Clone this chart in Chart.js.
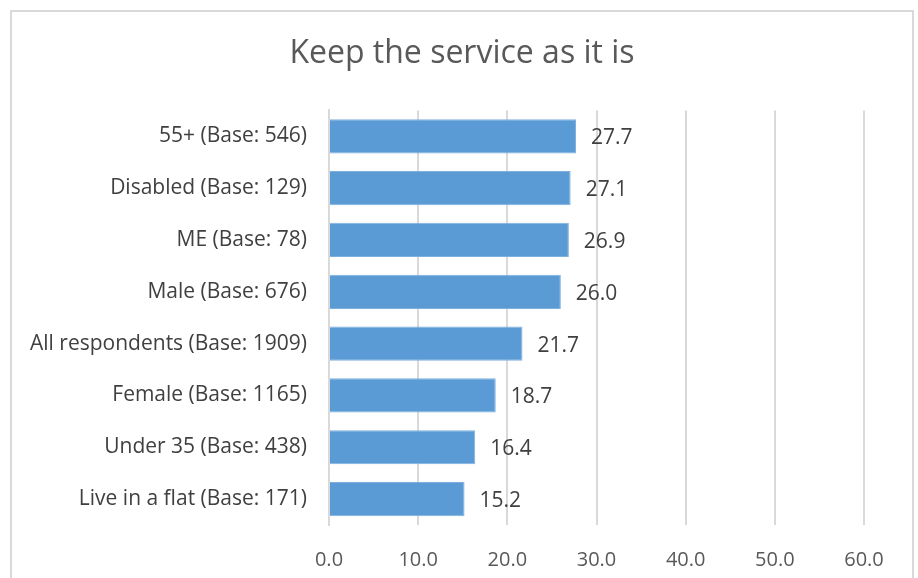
<!DOCTYPE html>
<html>
<head>
<meta charset="utf-8">
<script src="https://cdn.jsdelivr.net/npm/chart.js@4"></script>
<style>
  html, body { margin: 0; padding: 0; background: #fff; }
  #wrap { position: relative; width: 918px; height: 578px; overflow: hidden; }
  #frame { position: absolute; left: 10px; top: 10px; width: 904px; height: 600px; border: 2px solid #d9d9d9; box-sizing: border-box; }
  canvas { position: absolute; left: 0; top: 0; }
</style>
</head>
<body>
<div id="wrap">
  <div id="frame"></div>
  <canvas id="myChart" width="918" height="578"></canvas>
</div>
<script>
const groups = ['55+ (Base: 546)', 'Disabled (Base: 129)', 'ME (Base: 78)', 'Male (Base: 676)', 'All respondents (Base: 1909)', 'Female (Base: 1165)', 'Under 35 (Base: 438)', 'Live in a flat (Base: 171)'];
const keepService = [27.7, 27.1, 26.9, 26.0, 21.7, 18.7, 16.4, 15.2];
const axisMin = 0;
const axisMax = 60;
const axisStep = 10;

const fontName = '"Open Sans", sans-serif';

// draws the value next to the end of every bar
const valueLabels = {
  id: 'valueLabels',
  afterDatasetsDraw(chart) {
    const ctx = chart.ctx;
    const meta = chart.getDatasetMeta(0);
    ctx.save();
    ctx.font = '21px ' + fontName;
    ctx.fillStyle = '#404040';
    ctx.textAlign = 'left';
    ctx.textBaseline = 'middle';
    meta.data.forEach((bar, i) => {
      ctx.fillText(keepService[i].toFixed(1), bar.x + 15, bar.y + 2);
    });
    ctx.restore();
  }
};

new Chart(document.getElementById('myChart'), {
  type: 'bar',
  data: {
    labels: groups,
    datasets: [{
      label: 'Keep the service as it is',
      data: keepService,
      backgroundColor: '#5b9bd5',
      borderColor: '#7eb0df',
      borderWidth: 1,
      categoryPercentage: 1,
      barPercentage: 0.66
    }]
  },
  options: {
    indexAxis: 'y',
    responsive: false,
    animation: false,
    layout: { padding: { left: 6, right: 0, top: 0, bottom: 0 } },
    scales: {
      x: {
        min: axisMin,
        max: axisMax,
        ticks: {
          stepSize: axisStep,
          padding: 23,
          color: '#595959',
          font: { family: fontName, size: 20 },
          callback: v => v.toFixed(1)
        },
        grid: { color: '#d9d9d9', lineWidth: 2, drawTicks: false },
        border: { display: false },
        afterFit(scale) { scale.height = 53; }
      },
      y: {
        ticks: {
          padding: 22,
          color: '#404040',
          font: { family: fontName, size: 21 }
        },
        grid: { display: false, drawTicks: false },
        border: { display: true, color: '#d9d9d9', width: 2 },
        afterFit(scale) { scale.width = 323; }
      },
      // empty right-hand axis that only keeps room after 60.0
      spacer: {
        axis: 'y',
        position: 'right',
        display: true,
        ticks: { display: false },
        grid: { display: false, drawTicks: false },
        border: { display: false },
        afterFit(scale) { scale.width = 54; }
      }
    },
    plugins: {
      legend: { display: false },
      tooltip: { enabled: false },
      title: {
        display: true,
        text: 'Keep the service as it is',
        color: '#595959',
        font: { family: fontName, size: 32, weight: 'normal' },
        padding: { top: 35, bottom: 37 }
      }
    }
  },
  plugins: [valueLabels]
});
</script>
</body>
</html>
